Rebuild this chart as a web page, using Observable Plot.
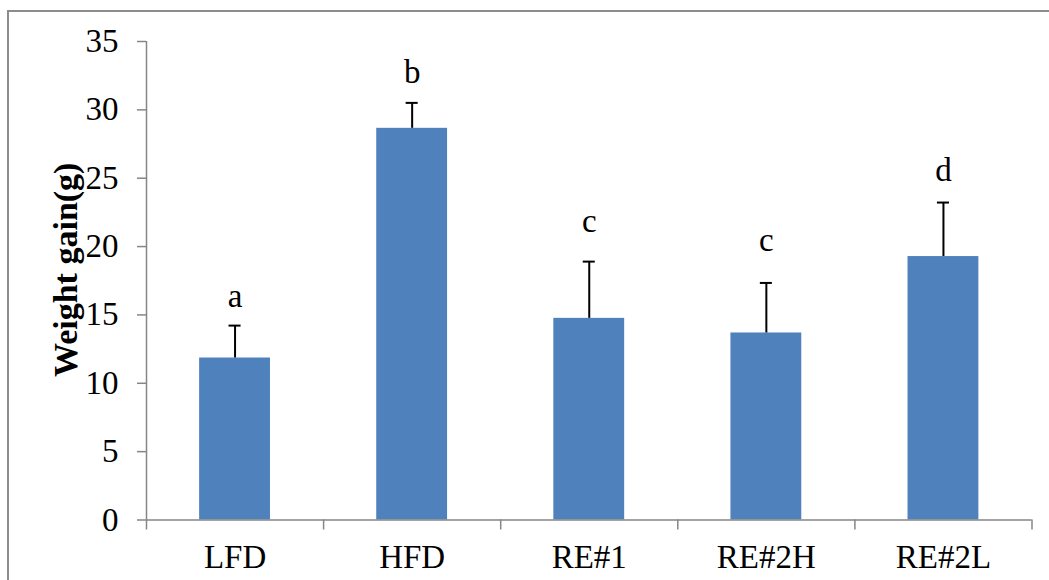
<!DOCTYPE html>
<html><head><meta charset="utf-8">
<script src="https://cdn.jsdelivr.net/npm/d3@7"></script>
<script src="https://cdn.jsdelivr.net/npm/@observablehq/plot@0.6"></script>
<style>
html,body{margin:0;padding:0;background:#fff;overflow:hidden;}
#wrap{position:relative;width:1049px;height:580px;overflow:hidden;}
#frame{position:absolute;left:7px;top:10px;width:2000px;height:2000px;border-left:2px solid #8c8c8c;border-top:2px solid #8c8c8c;}
#wrap svg{position:absolute;left:0;top:0;}
</style></head><body>
<div id="wrap"><div id="frame"></div></div>
<script>
const groups = ["LFD", "HFD", "RE#1", "RE#2H", "RE#2L"];
const gains = [11.85, 28.65, 14.75, 13.68, 19.27];
const errors = [2.37, 1.86, 4.15, 3.66, 3.95];
const letters = ["a", "b", "c", "c", "d"];
const letterLevels = [15.56, 31.95, 21.04, 19.7, 24.8];
const yTicks = [0, 5, 10, 15, 20, 25, 30, 35];
const yTitle = "Weight gain(g)";

const data = groups.map((g, i) => ({i, group: g, gain: gains[i], err: errors[i], letter: letters[i], level: letterLevels[i]}));
const gray = "#868686";
const serif = "'Liberation Serif', 'Times New Roman', serif";

const chart = Plot.plot({
  width: 1049,
  height: 580,
  marginLeft: 146,
  marginRight: 17.5,
  marginTop: 41,
  marginBottom: 60.5,
  x: {domain: [0, groups.length]},
  y: {domain: [0, 35]},
  style: {fontFamily: serif, background: "transparent", color: "black"},
  marks: [
    Plot.rectY(data, {x1: d => d.i + 0.3, x2: d => d.i + 0.7, y1: 0, y2: "gain", fill: "#4F81BD"}),
    Plot.ruleX(data, {x: d => d.i + 0.5, y1: "gain", y2: d => d.gain + d.err, stroke: "black", strokeWidth: 2}),
    Plot.ruleY(data, {y: d => d.gain + d.err, x1: d => d.i + 0.5 - 0.034, x2: d => d.i + 0.5 + 0.034, stroke: "black", strokeWidth: 2}),
    Plot.text(data, {x: d => d.i + 0.5, y: "level", text: "letter", fontSize: 33, lineAnchor: "bottom", fill: "black"}),
    Plot.ruleX([0], {stroke: gray, strokeWidth: 1.5}),
    Plot.ruleY([0], {stroke: gray, strokeWidth: 1.5}),
    Plot.axisY({ticks: yTicks, tickSize: 9, tickPadding: 19, stroke: gray, strokeWidth: 1.5, fill: "black", fontSize: 33, label: null, tickFormat: d => String(d)}),
    Plot.axisX({ticks: d3.range(groups.length + 1), tickSize: 10, tickFormat: () => "", stroke: gray, strokeWidth: 1.5, label: null}),
    Plot.axisX({ticks: groups.map((g, i) => i + 0.5), tickSize: 0, tickPadding: 24.5, tickFormat: v => groups[Math.floor(v)], fontSize: 33, fill: "black", label: null}),
    Plot.text([yTitle], {text: d => d, frameAnchor: "left", textAnchor: "middle", rotate: -90, dx: -80, dy: -11, fontSize: 34, fontWeight: "bold", fill: "black"})
  ]
});
document.getElementById("wrap").appendChild(chart);
</script>
</body></html>
